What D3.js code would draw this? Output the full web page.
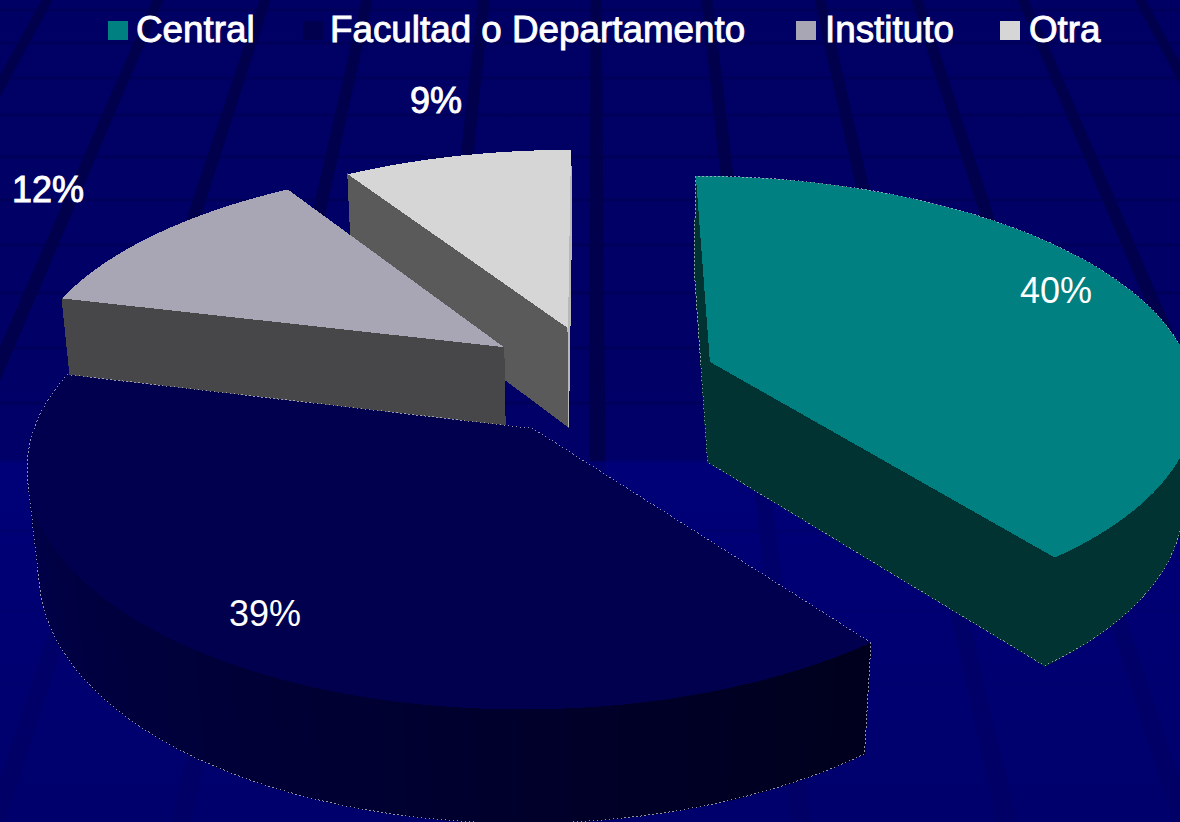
<!DOCTYPE html>
<html lang="es">
<head>
  <meta charset="UTF-8">
  <title>Central, Facultad, Instituto, Otra</title>
  <script src="https://d3js.org/d3.v7.min.js"></script>
  <style>
    html, body { margin: 0; padding: 0; background: #000066; overflow: hidden; }
    text { font-family: "Liberation Sans", Arial, sans-serif; fill: #fff; font-size: 36px; }
    .bold { stroke: #fff; stroke-width: 0.9px; }
    .legend text { font-size: 36.8px; }
  </style>
</head>
<body>
  <svg width="1180" height="822"></svg>
  <script>
    const categories = ["Central", "Facultad o Departamento", "Instituto", "Otra"];
    const values = [39.5, 39.4, 12.2, 8.9];
    const topColors = ["#008080", "#00004f", "#a8a6b4", "#d6d6d6"];
    const sideColors = ["#003331", "#000020", "#474649", "#5a5a5a"];

    // background template: x of the radial bands at y=0, y of the horizontal rules
    const bandTops = [-65, 47, 158, 265, 367, 484, 596, 707, 820, 917, 1023, 1140];
    const ruleYs = [10, 43, 78, 115, 157, 200, 245, 293, 348, 403, 461, 531, 611, 684];

    const svg = d3.select("svg");
    const defs = svg.append("defs");

    const bgGrad = defs.append("linearGradient").attr("id", "bg").attr("x1", 0).attr("x2", 0).attr("y1", 0).attr("y2", 1);
    bgGrad.append("stop").attr("offset", 0).attr("stop-color", "#000064");
    bgGrad.append("stop").attr("offset", 0.56).attr("stop-color", "#000068");
    bgGrad.append("stop").attr("offset", 0.562).attr("stop-color", "#000078");
    bgGrad.append("stop").attr("offset", 1).attr("stop-color", "#00006c");

    const bandGrad = defs.append("linearGradient").attr("id", "band").attr("gradientUnits", "userSpaceOnUse")
      .attr("x1", 0).attr("x2", 0).attr("y1", 0).attr("y2", 822);
    bandGrad.append("stop").attr("offset", 0).attr("stop-color", "#00004c");
    bandGrad.append("stop").attr("offset", 0.56).attr("stop-color", "#00004c");
    bandGrad.append("stop").attr("offset", 0.562).attr("stop-color", "#00006c");
    bandGrad.append("stop").attr("offset", 1).attr("stop-color", "#000066");

    svg.append("rect").attr("width", 1180).attr("height", 822).attr("fill", "url(#bg)");

    const vanish = [593, -1000];
    svg.selectAll(".rule").data(ruleYs).enter().append("rect")
      .attr("class", "rule")
      .attr("x", 0).attr("width", 1180)
      .attr("y", d => d - 1.5).attr("height", 3)
      .attr("fill", d => d < 461 ? "#00005a" : "#00006e");

    // bands are wedges running out of the vanishing point
    const line = d3.line();
    svg.selectAll(".band").data(bandTops).enter().append("path")
      .attr("class", "band")
      .attr("fill", "url(#band)")
      .attr("d", d => {
        const t = (822 - vanish[1]) / (0 - vanish[1]);
        const xb = x => vanish[0] + (x - vanish[0]) * t;
        return line([vanish, [xb(d - 5.5), 822], [xb(d + 5.5), 822]]) + "Z";
      });

    // the pie lives on a ground plane seen in perspective, radius 1
    const cam = { cx: 593, hy: -1181, a: 1543, b: 478, k: 0.137, m: 0.02, n: 133 };
    const centre = { x: 0.0155, y: -0.077 };
    const frontStretch = 1.04;
    const explodes = [0.239, 0.268, 0.252, 0.25];
    const nudgeX = [0.003, 0.01, 0, 0];

    function project(x, y, drop) {
      const w = 1 + cam.k * y + cam.m * drop;
      return [cam.cx + cam.b * x / w, cam.hy + (cam.a + cam.n * drop) / w];
    }

    const pie = d3.pie().sort(null).value(d => d)(values);
    const order = [3, 2, 1, 0];

    function rim(s, a, drop) {
      const c = Math.cos(a);
      return project(s.ox + Math.sin(a), s.oy + (c < 0 ? c * frontStretch : c), drop);
    }

    const slices = order.map(i => {
      const p = pie[i];
      const mid = (p.startAngle + p.endAngle) / 2;
      return {
        i,
        start: p.startAngle,
        end: p.endAngle,
        ox: centre.x + nudgeX[i] + explodes[i] * Math.sin(mid),
        oy: centre.y + explodes[i] * Math.cos(mid)
      };
    });

    const sideScale = d3.scaleLinear().domain([Math.PI * 0.8, Math.PI * 1.5]).range(["#00001e", "#00004f"]).clamp(true);

    slices.forEach(s => {
      const g = svg.append("g").attr("class", "slice-" + s.i).attr("shape-rendering", "crispEdges");
      const apexTop = project(s.ox, s.oy, 0);
      const apexBot = project(s.ox, s.oy, 1);
      const steps = d3.range(0, 61).map(j => s.start + (s.end - s.start) * j / 60);

      const faces = [
        [apexTop, rim(s, s.start, 0), rim(s, s.start, 1), apexBot],
        [rim(s, s.end, 0), apexTop, apexBot, rim(s, s.end, 1)]
      ];
      const cutCount = faces.length;
      d3.pairs(steps).forEach(([a, b]) => {
        faces.push([rim(s, a, 0), rim(s, b, 0), rim(s, b, 1), rim(s, a, 1)]);
      });

      faces.forEach((f, n) => {
        if (d3.polygonArea(f) <= 0) return;
        let col = sideColors[s.i];
        if (s.i === 1) col = n < cutCount ? sideColors[1] : sideScale(s.start + (s.end - s.start) * (n - cutCount) / 60);
        if (s.i === 3 && n === 1) col = "#b8b8b8";
        g.append("path").attr("d", line(f) + "Z").attr("fill", col).attr("stroke", col).attr("stroke-width", 1);
      });

      const topPts = [apexTop].concat(steps.map(a => rim(s, a, 0)));
      g.append("path").attr("d", line(topPts) + "Z").attr("fill", topColors[s.i]);

      if (s.i < 2) {
        const all = topPts.concat(steps.map(a => rim(s, a, 1)), [apexBot]);
        g.append("path").attr("d", line(d3.polygonHull(all)) + "Z")
          .attr("fill", "none").attr("stroke", "#b5b5c8").attr("stroke-width", 0.8)
          .attr("stroke-dasharray", "1.5 2.5");
      }
    });

    // legend
    const legendSwatch = [108, 303, 796, 1000];
    const legendText = [136, 330, 825, 1029];
    const legend = svg.selectAll(".legend").data(categories).enter().append("g").attr("class", "legend");
    legend.append("rect")
      .attr("x", (d, i) => legendSwatch[i]).attr("y", 21)
      .attr("width", 20).attr("height", 19)
      .attr("fill", (d, i) => topColors[i]);
    legend.append("text").attr("class", "bold")
      .attr("x", (d, i) => legendText[i]).attr("y", 42)
      .text(d => d);

    // percentage labels
    const labelX = [1020, 229, 12, 410];
    const labelY = [303, 626, 202, 113];
    svg.selectAll(".pct").data(values).enter().append("text")
      .attr("class", (d, i) => i >= 2 ? "pct bold" : "pct")
      .attr("x", (d, i) => labelX[i]).attr("y", (d, i) => labelY[i])
      .text(d => Math.round(d) + "%");
  </script>
</body>
</html>
